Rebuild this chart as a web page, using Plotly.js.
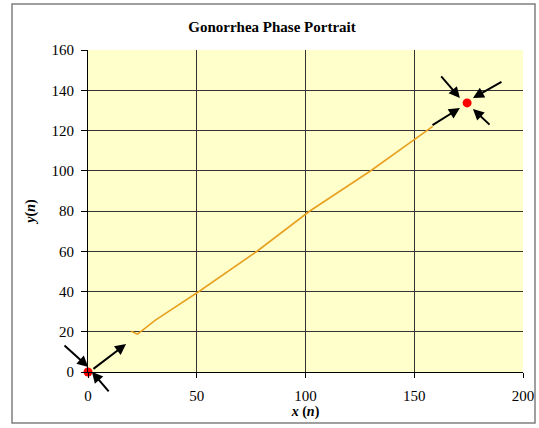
<!DOCTYPE html>
<html>
<head>
<meta charset="utf-8">
<script src="https://cdn.plot.ly/plotly-3.0.1.min.js"></script>
<style>
  html, body { margin: 0; padding: 0; background: #ffffff; }
  #chart { width: 539px; height: 428px; }
</style>
</head>
<body>
<div id="chart"></div>
<script>
// Trajectory of the phase portrait
const trajX = [19.8, 22.8, 31, 51, 77.7, 102, 130, 156, 158.5];
const trajY = [20.2, 18.8, 25.8, 40, 60, 80, 100, 120, 122];

// Equilibrium points
const eqX = [0, 174.3];
const eqY = [0, 133.7];

// Direction arrows: tail -> head
const arrowTailX = [-11.5, 10.1, 1.8, 161.8, 190.8, 185.3, 157.7];
const arrowTailY = [13.9, -10.4, 1.0, 147.6, 144.6, 122.2, 122.2];
const arrowHeadX = [0.1, 1.8, 17.5, 171.0, 177.0, 177.0, 171.0];
const arrowHeadY = [2.5, 0.1, 13.9, 136.1, 136.1, 130.7, 131.2];

const xTicks = [0, 50, 100, 150, 200];
const yTicks = [0, 20, 40, 60, 80, 100, 120, 140, 160];

const serif = "'Liberation Serif', 'Times New Roman', serif";

const traces = [
  {
    x: trajX, y: trajY, type: 'scatter', mode: 'lines',
    line: { color: '#E8A020', width: 1.6 },
    hoverinfo: 'skip', showlegend: false
  },
  {
    x: eqX, y: eqY, type: 'scatter', mode: 'markers',
    marker: { color: '#FF0000', size: 9 },
    cliponaxis: false,
    hoverinfo: 'skip', showlegend: false
  }
];

const annotations = arrowTailX.map((tx, i) => ({
  x: arrowHeadX[i], y: arrowHeadY[i],
  ax: tx, ay: arrowTailY[i],
  xref: 'x', yref: 'y', axref: 'x', ayref: 'y',
  text: '', showarrow: true,
  arrowhead: 2, arrowsize: 1.1, arrowwidth: 2, arrowcolor: '#000000'
}));

// Chart-area border
const plotL = 88, plotR = 523, plotT = 50, plotB = 372;
const pw = plotR - plotL, ph = plotB - plotT;
const shapes = [{
  type: 'rect', xref: 'paper', yref: 'paper',
  x0: (12 - plotL) / pw, x1: (535 - plotL) / pw,
  y0: (plotB - 423) / ph, y1: (plotB - 4) / ph,
  line: { color: '#808080', width: 1.5 }, fillcolor: 'rgba(0,0,0,0)', layer: 'below'
}];

const layout = {
  width: 539, height: 428,
  margin: { l: plotL, r: 539 - plotR, t: plotT, b: 428 - plotB, pad: 0 },
  paper_bgcolor: '#ffffff',
  plot_bgcolor: '#FFFFCC',
  font: { family: serif, color: '#000000' },
  title: {
    text: '<b>Gonorrhea Phase Portrait</b>',
    font: { family: serif, size: 15, color: '#000000' },
    x: 272 / 539, xanchor: 'center',
    y: 1 - 27 / 428, yanchor: 'middle'
  },
  xaxis: {
    range: [0, 200], tickvals: xTicks, ticktext: xTicks.map(String),
    showgrid: true, gridcolor: '#333333', gridwidth: 1,
    zeroline: false, showline: true, linecolor: '#000000', linewidth: 1,
    mirror: false,
    ticks: 'outside', ticklen: 5, tickcolor: '#000000',
    ticklabelstandoff: 5,
    tickfont: { family: serif, size: 15, color: '#000000' },
    title: { text: '<b><i>x</i> (<i>n</i>)</b>', font: { family: serif, size: 14 }, standoff: 2 },
    fixedrange: true
  },
  yaxis: {
    range: [0, 160], tickvals: yTicks, ticktext: yTicks.map(String),
    showgrid: true, gridcolor: '#333333', gridwidth: 1,
    zeroline: false, showline: true, linecolor: '#000000', linewidth: 1,
    ticks: 'outside', ticklen: 6, tickcolor: '#000000',
    ticklabelstandoff: 4,
    tickfont: { family: serif, size: 15, color: '#000000' },
    title: { text: '<b><i>y</i>(<i>n</i>)</b>', font: { family: serif, size: 14 }, standoff: 12 },
    fixedrange: true
  },
  annotations: annotations,
  shapes: shapes,
  showlegend: false
};

Plotly.newPlot('chart', traces, layout, { staticPlot: true, displayModeBar: false });
</script>
</body>
</html>
